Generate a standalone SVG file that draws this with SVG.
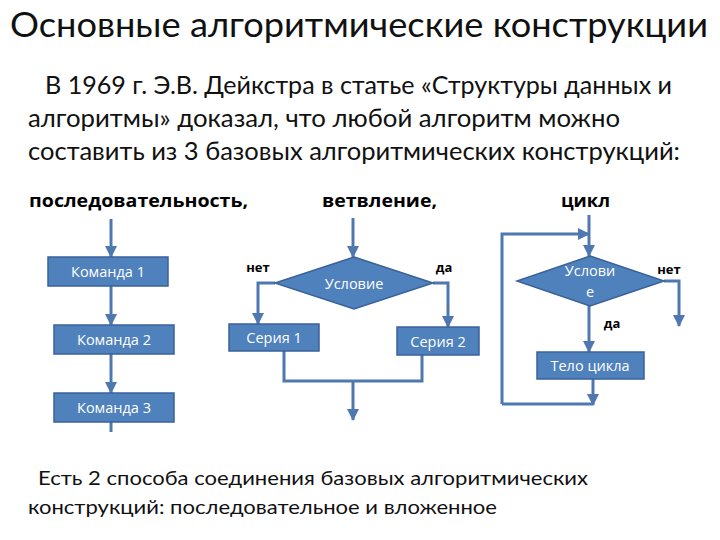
<svg xmlns="http://www.w3.org/2000/svg" width="720" height="540" viewBox="0 0 720 540">
<defs>
<marker id="ah" markerUnits="userSpaceOnUse" markerWidth="12" markerHeight="12" viewBox="0 0 12 12" refX="11" refY="6" orient="auto">
<path d="M0,0 L12,6 L0,12 Z" fill="#4F78B0"/>
</marker>
</defs>
<style>
.t{font-family:Lato,"Open Sans","Liberation Sans",sans-serif;fill:#111}
.b{font-family:"Open Sans","Liberation Sans",sans-serif;font-weight:bold;fill:#000}
.bx{fill:#4F81BD;stroke:#3A629A;stroke-width:1.5}
.bt{font-family:"Open Sans","Liberation Sans",sans-serif;font-size:14.5px;fill:#fff;text-anchor:middle}
.c{fill:none;stroke:#4F78B0;stroke-width:3}
.ca{fill:none;stroke:#4F78B0;stroke-width:3;marker-end:url(#ah)}
.lb{font-family:"Open Sans","Liberation Sans",sans-serif;font-weight:bold;font-size:13px;fill:#000;text-anchor:middle}
</style>
<rect width="720" height="540" fill="#fff"/>
<text class="t" x="10" y="37" font-size="34" textLength="698" lengthAdjust="spacingAndGlyphs">Основные алгоритмические конструкции</text>
<text class="t" x="45" y="94" font-size="25" textLength="627" lengthAdjust="spacingAndGlyphs">В 1969 г. Э.В. Дейкстра в статье «Структуры данных и</text>
<text class="t" x="28" y="127" font-size="25" textLength="592" lengthAdjust="spacingAndGlyphs">алгоритмы» доказал, что любой алгоритм можно</text>
<text class="t" x="28" y="160" font-size="25" textLength="652" lengthAdjust="spacingAndGlyphs">составить из 3 базовых алгоритмических конструкций:</text>
<text class="b" x="29" y="207" font-size="17" textLength="219" lengthAdjust="spacingAndGlyphs">последовательность,</text>
<text class="b" x="322" y="207" font-size="17" textLength="115" lengthAdjust="spacingAndGlyphs">ветвление,</text>
<text class="b" x="561" y="207" font-size="17" textLength="49" lengthAdjust="spacingAndGlyphs">цикл</text>
<g id="connectors">
<path class="ca" d="M111,219 V257"/>
<path class="ca" d="M111,286 V325"/>
<path class="ca" d="M111,354 V393"/>
<path class="c" d="M111,422 V432"/>
<path class="ca" d="M353,218 V257"/>
<path class="ca" d="M275,283 H258 V324"/>
<path class="ca" d="M433,283 H448 V327"/>
<path class="c" d="M284,351 V381 H422 V355"/>
<path class="ca" d="M353,381 V420"/>
<path class="ca" d="M589,215 V256"/>
<path class="ca" d="M502,404 V234 H589"/>
<path class="c" d="M502,404 H593"/>
<path class="ca" d="M593,379 V405"/>
<path class="ca" d="M589,306 V352"/>
<path class="ca" d="M664,281 H679 V326"/>
</g>
<g id="cmd1"><rect class="bx" x="48" y="257" width="120" height="29"/><text class="bt" x="108" y="277">Команда 1</text></g>
<g id="cmd2"><rect class="bx" x="54" y="325" width="120" height="29"/><text class="bt" x="114" y="345">Команда 2</text></g>
<g id="cmd3"><rect class="bx" x="54" y="393" width="120" height="29"/><text class="bt" x="114" y="413">Команда 3</text></g>
<g id="cond1"><polygon class="bx" points="354,257 433,283 354,309 275,283"/><text class="bt" x="354" y="289">Условие</text></g>
<g id="ser1"><rect class="bx" x="229" y="324" width="90" height="27"/><text class="bt" x="274" y="343">Серия 1</text></g>
<g id="ser2"><rect class="bx" x="397" y="327" width="82" height="28"/><text class="bt" x="438" y="347">Серия 2</text></g>
<text class="lb" x="258" y="272">нет</text>
<text class="lb" x="444" y="272">да</text>
<g id="cond2"><polygon class="bx" points="590,256 664,281 590,306 517,281"/><text class="bt" x="590" y="276">Услови</text><text class="bt" x="590" y="297">е</text></g>
<g id="body"><rect class="bx" x="537" y="352" width="107" height="27"/><text class="bt" x="590" y="371">Тело цикла</text></g>
<text class="lb" x="669" y="274">нет</text>
<text class="lb" x="612" y="328">да</text>
<text class="t" x="38" y="485" font-size="20" textLength="550" lengthAdjust="spacingAndGlyphs">Есть 2 способа соединения базовых алгоритмических</text>
<text class="t" x="28" y="514" font-size="20" textLength="469" lengthAdjust="spacingAndGlyphs">конструкций: последовательное и вложенное</text>
</svg>
